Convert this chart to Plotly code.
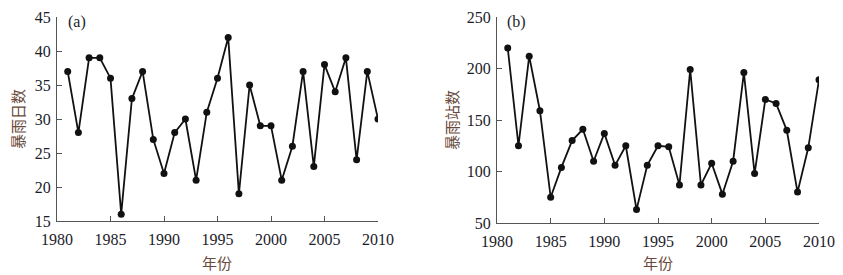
import plotly.graph_objects as go

years = list(range(1981, 2011))
rain_days = [37, 28, 39, 39, 36, 16, 33, 37, 27, 22, 28, 30, 21, 31, 36,
             42, 19, 35, 29, 29, 21, 26, 37, 23, 38, 34, 39, 24, 37, 30]
rain_stations = [220, 125, 212, 159, 75, 104, 130, 141, 110, 137, 106, 125, 63, 106, 125,
                 124, 87, 199, 87, 108, 78, 110, 196, 98, 170, 166, 140, 80, 123, 189]
x_ticks = [1980, 1985, 1990, 1995, 2000, 2005, 2010]

# page body has an 8px margin, so the figure starts at (8, 8) in the window
OFF = 8
W, H = 843 - OFF, 275 - OFF


def px(x):
    return (x - OFF) / W


def py(y):
    return 1 - (y - OFF) / H


tick_font = dict(family="Liberation Serif, Times New Roman, serif", size=16, color="#1c1c2a")
title_font = dict(family="Noto Sans CJK SC, sans-serif", size=15, color="#6a4a3c")

fig = go.Figure()
line = dict(color="#111111", width=1.8)
marker = dict(color="#111111", size=7)
fig.add_trace(go.Scatter(x=years, y=rain_days, mode="lines+markers", line=line,
                         marker=marker, xaxis="x", yaxis="y", showlegend=False))
fig.add_trace(go.Scatter(x=years, y=rain_stations, mode="lines+markers", line=line,
                         marker=marker, xaxis="x2", yaxis="y2", showlegend=False))

axis_common = dict(showline=True, linecolor="#555555", linewidth=1.2, ticks="inside",
                   ticklen=5, tickcolor="#555555", showgrid=False, zeroline=False,
                   tickfont=tick_font, mirror=False, automargin=False)

fig.update_layout(
    width=W, height=H,
    margin=dict(l=0, r=0, t=0, b=0),
    plot_bgcolor="white", paper_bgcolor="white",
    xaxis=dict(domain=[px(57), px(378)], range=[1980, 2010], tickvals=x_ticks,
               anchor="y", ticklabelstandoff=4, **axis_common),
    yaxis=dict(domain=[py(221), py(17)], range=[15, 45], dtick=5,
               anchor="x", ticklabelstandoff=2, **axis_common),
    xaxis2=dict(domain=[px(497), px(819)], range=[1980, 2010], tickvals=x_ticks,
                anchor="y2", ticklabelstandoff=4, **axis_common),
    yaxis2=dict(domain=[py(223), py(17)], range=[50, 250], dtick=50,
                anchor="x2", ticklabelstandoff=2, **axis_common),
)

annotations = [
    dict(text="(a)", x=px(77), y=py(22), font=tick_font),
    dict(text="(b)", x=px(516), y=py(22), font=tick_font),
    dict(text="年份", x=px(217), y=py(262), font=title_font),
    dict(text="年份", x=px(658), y=py(262), font=title_font),
    dict(text="暴雨日数", x=px(17), y=py(119), textangle=-90, font=title_font),
    dict(text="暴雨站数", x=px(451), y=py(120), textangle=-90, font=title_font),
]
for a in annotations:
    fig.add_annotation(xref="paper", yref="paper", showarrow=False,
                       xanchor="center", yanchor="middle", **a)

fig.write_html("out.html")
